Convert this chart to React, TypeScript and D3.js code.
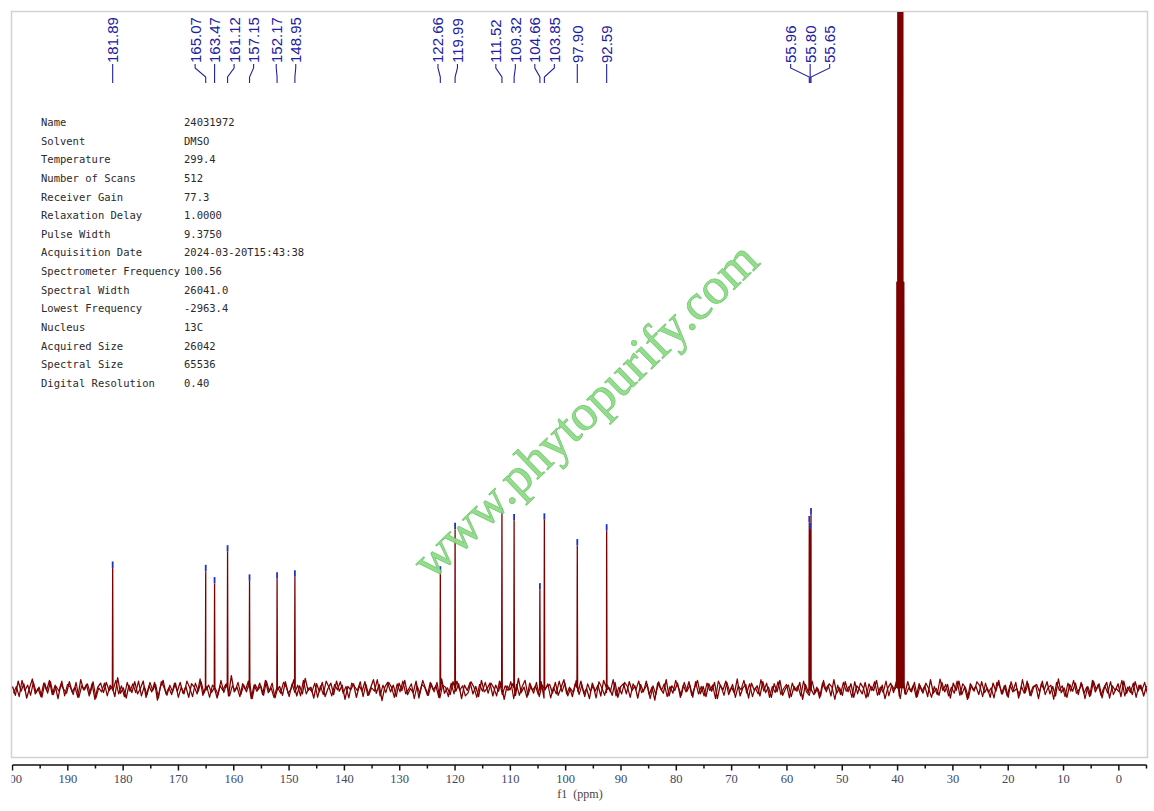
import { useRef, useEffect } from 'react';
import * as d3 from 'd3';

// picked peaks (ppm) and their heights above the baseline
const peakPpm = [181.89, 165.07, 163.47, 161.12, 157.15, 152.17, 148.95, 122.66, 119.99,
  111.52, 109.32, 104.66, 103.85, 97.90, 92.59, 55.96, 55.80, 55.65];
const peakHeight = [17.8, 17.3, 15.5, 20.2, 15.9, 16.2, 16.5, 17.1, 23.5,
  25.7, 24.8, 14.6, 24.9, 21.1, 23.3, 24.5, 23.5, 25.7];

// DMSO septet (off scale, no labels)
const solventPpm = [40.13, 39.92, 39.71, 39.50, 39.29, 39.08, 38.87];
const solventHeight = [60, 260, 600, 700, 600, 260, 60];

// baseline noise, read left (200 ppm) to right (-5 ppm); two overlapping runs
const baselineNoiseA = [
  0.4, -0.9, 1.2, -0.3, 0.8, -1.3, 0.2, 1.5, -0.7, 0.1, -1.1, 0.9, -0.2, 1.3, -0.8, 0.6, -1.4, 0.7, 0.0, -0.6,
  1.1, -0.4, 0.3, -1.2, 1.4, -0.1, 0.7, -1.0, 0.8, -1.5, 0.3, 0.9, -0.5, 1.0, -0.2, 0.4, -1.1, 1.7, -0.6, 0.2,
  -1.3, 0.6, -0.5, 1.1, -0.7, 0.1, 1.2, -1.2, 0.5, -0.4, 1.0, -1.6, 0.3, 1.3, -0.7, 0.2, -0.8, 0.9, -0.3, 1.0,
  -0.6, 0.4, -1.2, 0.8, 0.3, -0.7, 1.5, -0.9, 0.2, 0.6, -0.5, 1.1, -1.3, 0.5, -0.2, 0.7, -1.0, 2.0, -0.4, 0.3,
  -1.1, 0.8, -0.1, 1.2, -1.4, 0.6, -0.3, 0.9, -0.8, 1.3, -0.5, 0.2, -1.2, 0.7, 0.4, -0.9, 1.1, -0.6, 0.0, 1.4,
  -1.0, 0.5, -0.7, 1.6, -0.2, 0.3, -1.3, 0.8, -0.4, 1.0, -1.1, 0.1, 0.9, -0.8, 1.2, -0.3, 0.6, -1.5, 0.4, -0.1,
  0.8, -1.2, 0.5, -0.3, 1.1, -0.9, 0.2, 1.4, -0.6, 0.7, -1.7, 0.3, 1.0, -0.4, 0.6, -1.1, 0.9, -0.2, 1.3, -0.8,
  0.1, -0.5, 1.2, -1.3, 0.7, 0.3, -0.9, 1.0, -0.1, 0.5, -1.2, 1.5, -0.6, 0.2, -0.8, 1.1, -0.3, 0.8, -1.4, 0.6,
  -0.2, 1.0, -0.7, 0.4, -1.1, 1.3, -0.4, 0.1, 0.9, -1.0, 0.6, -0.3, 1.2, -1.5, 0.5, -0.1, 0.8, -0.9, 1.6, -0.5,
  0.3, -1.2, 0.9, -0.2, 0.5, -0.8, 1.1, -1.3, 0.4, 0.7, -0.6, 1.0, -0.9, 0.2, 1.4, -0.7, 0.3, -1.1, 0.8, -0.4,
  1.2, -0.6, 0.1, -1.4, 0.9, -0.3, 0.6, -1.0, 1.3, -0.5, 0.2, -0.9, 1.0, -1.2, 0.4, 0.8, -0.7, 1.1, -0.2, 0.5,
  -1.3, 0.7, -0.4, 1.2, -0.8, 0.3, -1.6, 0.9, 0.1, -0.6, 1.4, -1.0, 0.5, -0.2, 0.9, -1.2, 0.6, -0.4, 1.1, -0.9,
  0.2, 1.3, -0.7, 0.4, -1.1, 0.8, -0.3, 1.0, -1.4, 0.6, -0.1, 1.2, -0.8, 0.3, -0.6, 1.5, -1.0, 0.2, 0.7, -1.3,
  0.9, -0.2, 0.5, -1.0, 1.1, -0.5, 0.3, -1.2, 0.8, -0.4, 1.3, -0.9, 0.1, 0.6, -1.1, 0.4, -0.3, 1.0, -1.5, 0.7,
  -0.5, 1.2, -0.8, 0.3, -1.3, 0.9, -0.1, 0.6, -1.0, 1.4, -0.6, 0.2, -0.9, 1.1, -0.4, 0.8, -1.2, 0.5, 0.0, -0.7,
  1.0, -1.1, 0.4, -0.2, 1.3, -0.8, 0.6, -1.4, 0.2, 0.9, -0.5, 1.2, -1.0, 0.3, -0.7, 1.1, -0.3, 0.6, -1.2, 0.8,
  -0.3, 0.5, -1.1, 1.4, -0.6, 0.1, -0.9, 1.0, -0.4, 0.7, -1.3, 0.9, -0.2, 1.2, -0.8, 0.3, -1.5, 0.8, -0.1, 0.4,
  -0.8, 1.1, -0.5, 0.2, -1.2, 0.9, -0.3, 1.3, -0.7, 0.5, -1.0, 0.6, -0.4, 1.0, -1.3, 0.4, -0.6, 1.2, -0.9, 0.3,
  0.6, -1.4, 0.8, -0.1, 1.1, -0.7, 0.4, -1.0, 1.5, -0.5, 0.2, -1.2, 0.7, -0.3, 0.9, -0.8, 1.0, -0.6, 0.3, -1.1,
  1.3, -0.4, 0.7, -0.9, 0.2, 1.0, -1.3, 0.5, -0.2, 0.8, -1.1, 1.2, -0.6, 0.4, -0.8, 1.1, -0.3, 0.6, -1.0, 0.5
];
const baselineNoiseB = [
  -0.7, 1.0, -0.2, 0.6, -1.2, 0.9, -0.5, 0.3, -1.0, 1.3, -0.4, 0.1, -0.8, 1.1, -0.6, 0.5, -1.3, 0.8, -0.1, 1.2,
  -0.9, 0.4, -1.4, 0.7, 0.0, -0.6, 1.3, -0.3, 0.9, -1.1, 0.5, -0.2, 1.0, -1.5, 0.6, 0.2, -0.8, 1.2, -0.4, 0.7,
  0.3, -1.0, 0.8, -0.5, 1.4, -0.9, 0.1, -0.3, 1.1, -1.2, 0.6, -0.7, 0.4, 1.0, -1.3, 0.2, -0.5, 0.9, -1.1, 0.5,
  1.1, -0.3, 0.6, -1.3, 0.2, 0.8, -0.9, 1.2, -0.6, 0.3, -1.0, 0.7, -0.2, 1.5, -0.8, 0.4, -1.2, 0.1, 0.9, -0.6,
  0.5, -1.1, 1.0, -0.4, 0.2, -0.8, 1.3, -1.4, 0.7, -0.1, 0.6, -1.0, 1.2, -0.5, 0.3, -0.9, 1.1, -0.2, 0.8, -1.3,
  0.2, 0.9, -0.7, 1.1, -1.2, 0.4, -0.3, 1.0, -0.8, 0.6, -1.5, 0.3, 0.8, -0.4, 1.3, -1.0, 0.1, -0.6, 1.2, -0.9,
  -0.4, 1.2, -1.0, 0.5, -0.2, 0.9, -1.3, 0.7, 0.1, -0.8, 1.1, -0.5, 0.4, -1.2, 0.9, -0.3, 1.4, -0.7, 0.2, -1.1,
  0.8, -0.6, 1.3, -0.1, 0.5, -1.2, 0.7, -0.4, 1.0, -0.9, 0.3, 1.2, -1.4, 0.6, -0.2, 0.9, -1.0, 0.4, -0.7, 1.1,
  -1.2, 0.6, -0.3, 1.0, -0.9, 0.2, 1.3, -0.6, 0.4, -1.1, 0.8, -0.2, 1.1, -0.8, 0.5, -1.4, 0.7, 0.0, -0.5, 1.2,
  -0.1, 0.8, -1.2, 0.4, 1.0, -0.7, 0.3, -1.0, 1.4, -0.4, 0.6, -0.9, 0.2, 1.1, -1.3, 0.5, -0.3, 0.8, -1.1, 0.6,
  -0.8, 1.3, -0.5, 0.1, -1.0, 0.9, -0.4, 1.2, -0.7, 0.3, -1.3, 0.8, -0.1, 0.6, -1.1, 1.0, -0.6, 0.4, -0.9, 1.3,
  0.4, -0.9, 0.7, -1.4, 1.1, -0.2, 0.5, -0.8, 1.2, -1.0, 0.2, 0.9, -0.6, 1.0, -0.3, 0.7, -1.2, 0.3, 1.1, -0.5,
  -1.0, 0.5, -0.2, 1.2, -0.7, 0.9, -1.1, 0.3, 0.6, -1.3, 1.0, -0.4, 0.8, -0.9, 0.1, 1.3, -0.6, 0.5, -1.4, 0.8,
  0.0, -0.7, 1.2, -0.4, 0.8, -1.2, 0.3, 1.0, -0.5, 0.6, -1.0, 1.4, -0.3, 0.2, -0.9, 0.7, -1.1, 1.1, -0.2, 0.4,
  0.9, -1.3, 0.4, -0.6, 1.1, -0.1, 0.7, -1.0, 0.3, 1.2, -0.8, 0.5, -1.2, 0.9, -0.4, 0.2, -0.7, 1.3, -1.0, 0.6,
  -0.5, 0.8, -1.1, 0.3, 1.0, -0.6, 0.2, -1.3, 0.9, -0.3, 1.2, -0.9, 0.5, -0.1, 0.7, -1.4, 1.1, -0.4, 0.6, -0.8,
  1.0, -0.2, 0.5, -1.0, 0.8, -0.5, 1.3, -0.8, 0.1, 0.6, -1.2, 0.4, -0.6, 1.1, -0.3, 0.9, -1.1, 0.2, 1.2, -0.7,
  0.3, -1.2, 0.9, -0.4, 0.6, -0.9, 0.2, 1.1, -1.3, 0.7, -0.2, 1.0, -0.8, 0.4, -1.0, 1.2, -0.5, 0.8, -0.3, 1.0,
  -1.1, 0.5, -0.7, 1.3, -0.2, 0.6, -1.0, 0.9, -0.4, 0.2, -1.3, 1.1, -0.6, 0.8, -0.1, 0.5, -1.2, 1.0, -0.8, 0.3,
  0.7, -1.0, 1.2, -0.3, 0.4, -0.8, 1.1, -0.6, 0.9, -1.2, 0.3, -0.5, 1.0, -0.9, 0.6, -0.2, 1.3, -1.1, 0.4, -0.6
];

const majorTicks = [200, 190, 180, 170, 160, 150, 140, 130, 120, 110, 100, 90, 80, 70, 60, 50, 40, 30, 20, 10, 0];
const minorTicks = [195, 185, 175, 165, 155, 145, 135, 125, 115, 105, 95, 85, 75, 65, 55, 45, 35, 25, 15, 5, -5];

const paramNames = ['Name', 'Solvent', 'Temperature', 'Number of Scans', 'Receiver Gain',
  'Relaxation Delay', 'Pulse Width', 'Acquisition Date', 'Spectrometer Frequency',
  'Spectral Width', 'Lowest Frequency', 'Nucleus', 'Acquired Size', 'Spectral Size',
  'Digital Resolution'];
const paramValues = ['24031972', 'DMSO', '299.4', '512', '77.3', '1.0000', '9.3750',
  '2024-03-20T15:43:38', '100.56', '26041.0', '-2963.4', '13C', '26042', '65536', '0.40'];

const WIDTH = 1154;
const HEIGHT = 811;

// spread labels so they keep a minimum gap, each group centred on its peaks
function spreadLabels(px: number[], gap: number) {
  type Block = { idx: number[]; c: number };
  const blocks: Block[] = [];
  px.forEach((p, i) => {
    blocks.push({ idx: [i], c: p });
    while (blocks.length > 1) {
      const b = blocks[blocks.length - 1];
      const a = blocks[blocks.length - 2];
      const aLast = a.c + (a.idx.length - 1) * gap;
      if (aLast + gap <= b.c) break;
      const idx = a.idx.concat(b.idx);
      const c = d3.mean(idx.map((k, j) => px[k] - j * gap)) as number;
      blocks.splice(blocks.length - 2, 2, { idx, c });
    }
  });
  const out: number[] = new Array(px.length);
  blocks.forEach(b => b.idx.forEach((k, j) => { out[k] = b.c + j * gap; }));
  return out;
}

export default function App() {
  const svgRef = useRef<SVGSVGElement>(null);

  useEffect(() => {
    if (!svgRef.current) return;
    const svg = d3.select(svgRef.current);
    svg.selectAll('*').remove();

    const x = d3.scaleLinear().domain([200, -5]).range([12.5, 1146.5]);
    const y = d3.scaleLinear().domain([-10, 100]).range([757, 11]);

    svg.append('rect').attr('width', WIDTH).attr('height', HEIGHT).attr('fill', '#fff');

    const defs = svg.append('defs');
    defs.append('clipPath').attr('id', 'plotClip')
      .append('rect').attr('x', 12).attr('y', 12).attr('width', 1135).attr('height', 745);
    defs.append('clipPath').attr('id', 'axisClip')
      .append('rect').attr('x', 11.5).attr('y', 0).attr('width', 1142).attr('height', HEIGHT);

    // frame
    svg.append('rect')
      .attr('x', 11.5).attr('y', 11.5).attr('width', 1136).attr('height', 746)
      .attr('fill', 'none').attr('stroke', '#d2d2d2').attr('stroke-width', 1.5);

    // parameter table
    const table = svg.append('g')
      .attr('font-family', '"DejaVu Sans Mono", monospace')
      .attr('font-size', 10.5)
      .attr('fill', '#2a2a2a');
    paramNames.forEach((name, i) => {
      const ty = 122 + i * 18.64;
      table.append('text').attr('x', 41).attr('y', ty).attr('dominant-baseline', 'central').text(name);
      table.append('text').attr('x', 184).attr('y', ty).attr('dominant-baseline', 'central').text(paramValues[i]);
    });

    const line = d3.line<[number, number]>().x(d => x(d[0])).y(d => y(d[1]));
    const n = baselineNoiseA.length;
    const step = 205 / (n - 1);

    // second noise run, offset by a fraction of a step
    const ptsB: [number, number][] = baselineNoiseB.slice().reverse()
      .map((v, i) => [200 - step * 0.35 - i * step, v]);
    svg.append('path')
      .attr('d', line(ptsB) as string)
      .attr('clip-path', 'url(#plotClip)')
      .attr('fill', 'none')
      .attr('stroke', '#7c0000')
      .attr('stroke-width', 1.2)
      .attr('stroke-linejoin', 'round');

    // main spectrum with the peaks
    const pts: [number, number][] = baselineNoiseA.map((v, i) => [200 - i * step, v]);
    peakPpm.forEach((p, i) => {
      pts.push([p + 0.06, 0.2], [p, peakHeight[i]], [p - 0.06, -0.1]);
    });
    solventPpm.forEach((p, i) => {
      pts.push([p + 0.06, 0.3], [p, solventHeight[i]], [p - 0.06, 0.2]);
    });
    pts.sort((a, b) => b[0] - a[0]);
    svg.append('path')
      .attr('d', line(pts) as string)
      .attr('clip-path', 'url(#plotClip)')
      .attr('fill', 'none')
      .attr('stroke', '#7c0000')
      .attr('stroke-width', 1.3)
      .attr('stroke-linejoin', 'round');

    // peak markers
    peakPpm.forEach((p, i) => {
      const top = y(peakHeight[i]);
      svg.append('line')
        .attr('x1', x(p)).attr('x2', x(p))
        .attr('y1', top - 7).attr('y2', top - 0.5)
        .attr('stroke', '#2233bb').attr('stroke-width', 1.8);
    });

    // peak labels
    const px = peakPpm.map(p => x(p));
    const lx = spreadLabels(px, 19.5);
    const labels = svg.append('g').attr('fill', '#2020a0');
    peakPpm.forEach((p, i) => {
      labels.append('path')
        .attr('d', `M${lx[i]},64 L${lx[i]},68 L${px[i]},77 L${px[i]},83`)
        .attr('fill', 'none').attr('stroke', '#2020a0').attr('stroke-width', 1.1);
      labels.append('text')
        .attr('transform', `translate(${lx[i]},63) rotate(-90)`)
        .attr('dominant-baseline', 'central')
        .attr('font-family', '"Liberation Sans", Arial, sans-serif')
        .attr('font-size', 15)
        .text(p.toFixed(2));
    });

    // x axis
    const axis = svg.append('g').attr('clip-path', 'url(#axisClip)');
    axis.append('line')
      .attr('x1', x(200)).attr('x2', x(-5)).attr('y1', 765).attr('y2', 765)
      .attr('stroke', '#111').attr('stroke-width', 1.5);
    majorTicks.forEach(t => {
      axis.append('line')
        .attr('x1', x(t)).attr('x2', x(t)).attr('y1', 765).attr('y2', 770.5)
        .attr('stroke', '#111').attr('stroke-width', 1.5);
      axis.append('text')
        .attr('x', x(t)).attr('y', 782.5)
        .attr('text-anchor', 'middle')
        .attr('font-family', '"Liberation Serif", "Times New Roman", serif')
        .attr('font-size', 12.5)
        .attr('fill', '#3d4760')
        .text(t);
    });
    minorTicks.forEach(t => {
      axis.append('line')
        .attr('x1', x(t)).attr('x2', x(t)).attr('y1', 765).attr('y2', 768.5)
        .attr('stroke', '#111').attr('stroke-width', 1.5);
    });
    svg.append('text')
      .attr('x', 580).attr('y', 797.5)
      .attr('text-anchor', 'middle')
      .attr('font-family', '"Liberation Serif", "Times New Roman", serif')
      .attr('font-size', 12)
      .attr('fill', '#444')
      .text('f1\u2002(ppm)');

    // watermark
    svg.append('text')
      .attr('transform', 'translate(585,410) rotate(-44)')
      .attr('text-anchor', 'middle')
      .attr('dominant-baseline', 'central')
      .attr('font-family', '"Liberation Serif", "Times New Roman", serif')
      .attr('font-size', 51)
      .attr('fill', '#8fdc8a')
      .attr('stroke', '#6cc566')
      .attr('stroke-width', 0.7)
      .attr('opacity', 0.95)
      .text('www.phytopurify.com');
  }, []);

  return (
    <svg
      ref={svgRef}
      width={WIDTH}
      height={HEIGHT}
      style={{ position: 'absolute', left: 0, top: 0 }}
    />
  );
}
